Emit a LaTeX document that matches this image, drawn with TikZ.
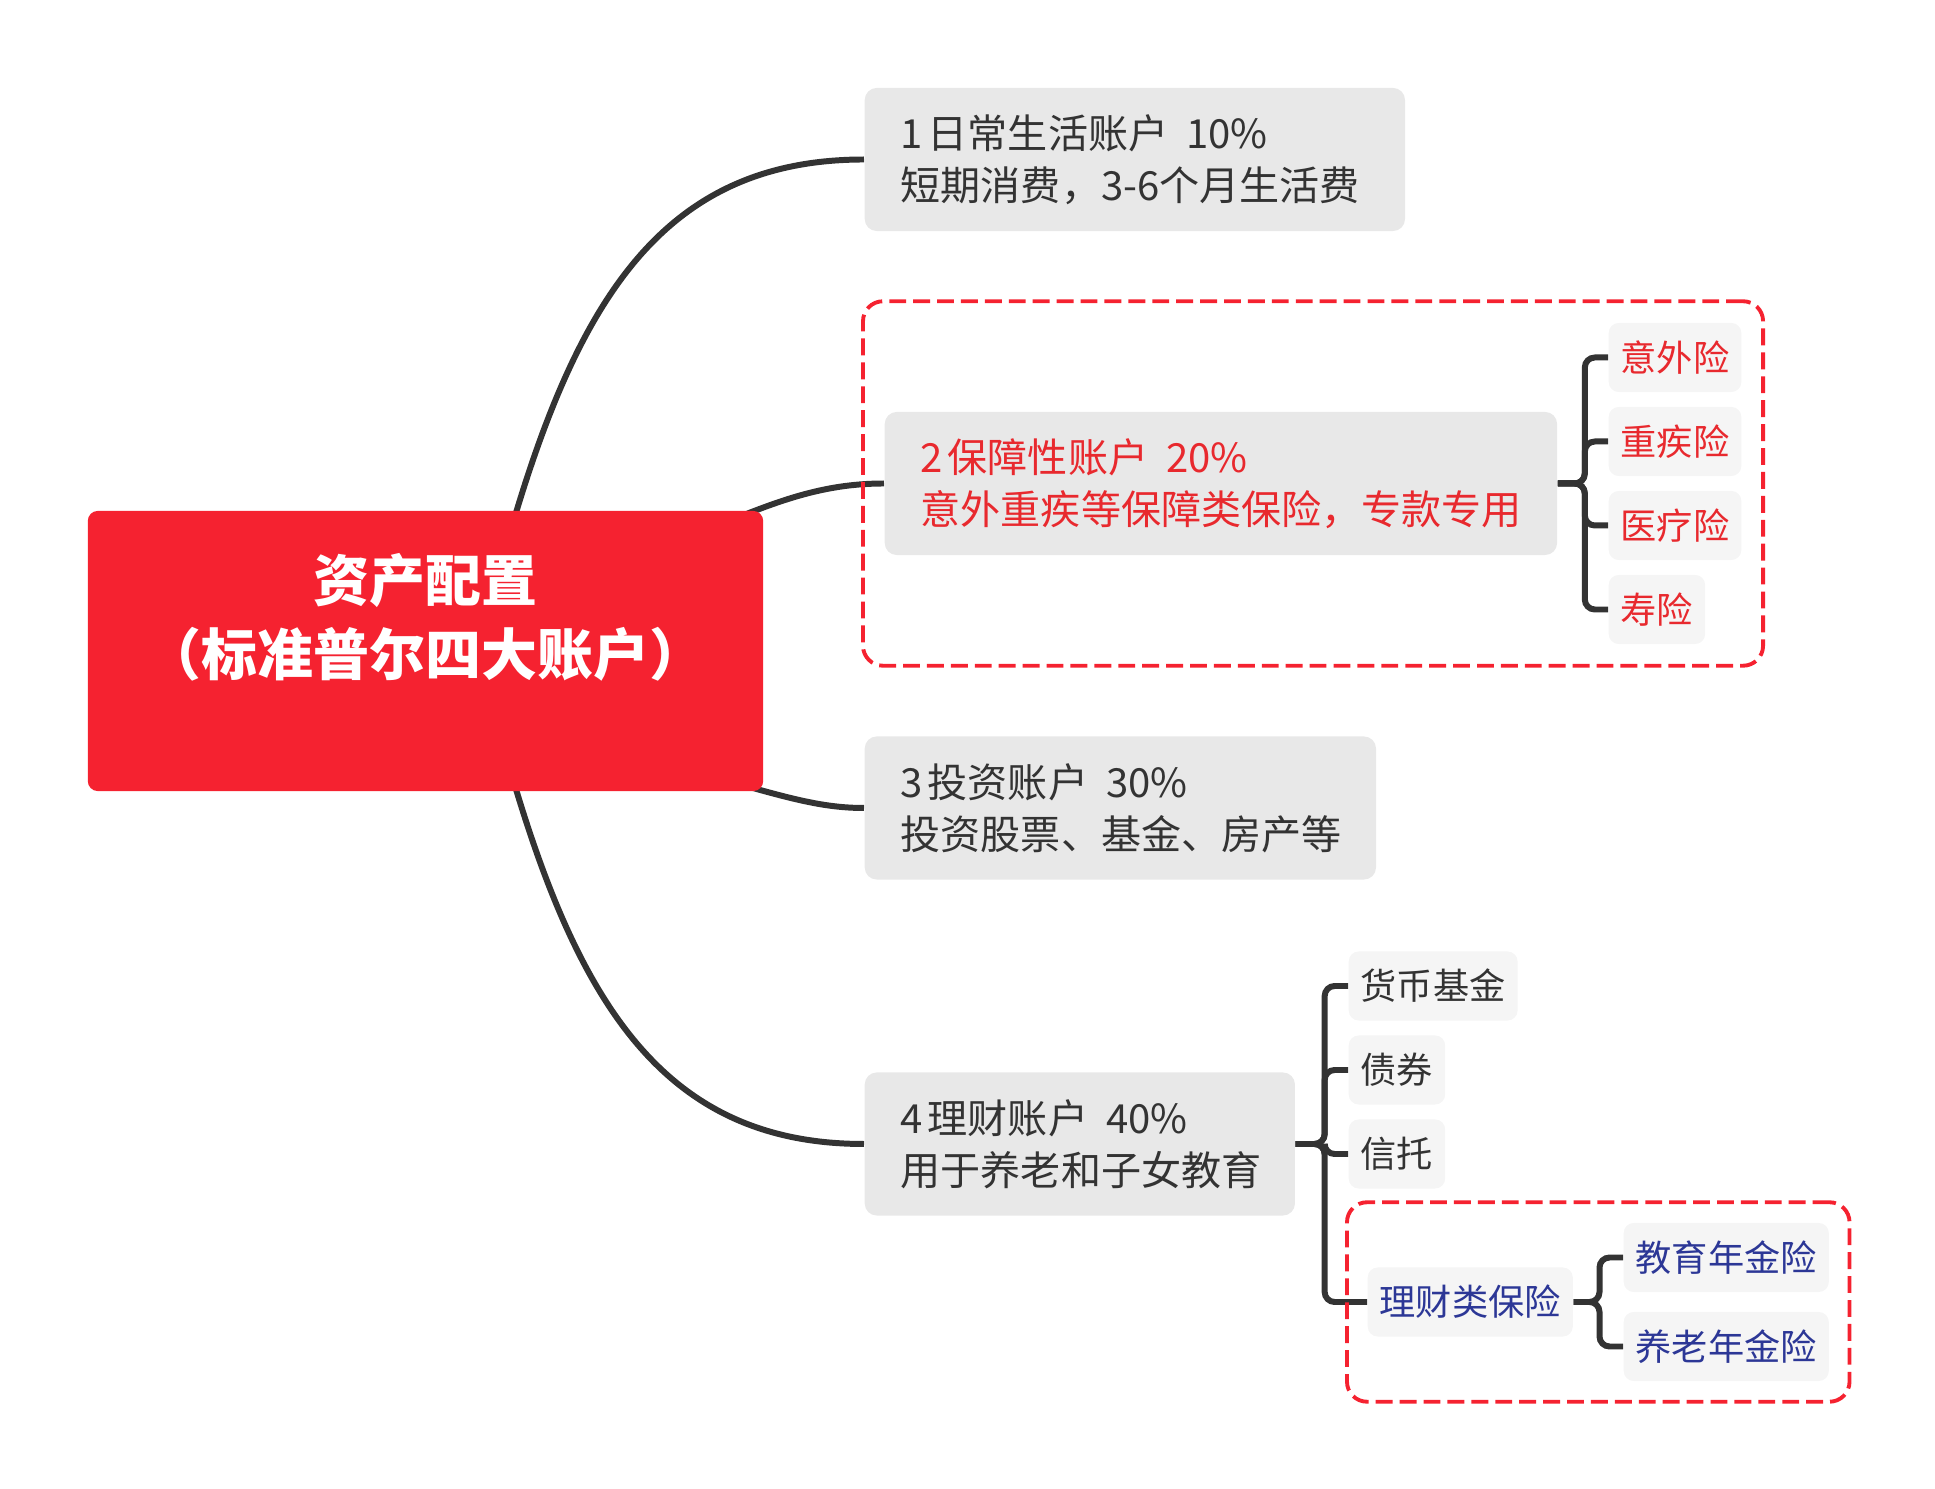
\documentclass[tikz,border=0pt]{standalone}
\usepackage{fontspec}
\setmainfont{Noto Sans CJK SC}
\usetikzlibrary{fit}
\definecolor{rootred}{HTML}{F52230}
\definecolor{dashred}{HTML}{F52230}
\definecolor{txtred}{HTML}{E8292E}
\definecolor{txtblue}{HTML}{2C3796}
\definecolor{boxgrey}{HTML}{E8E8E8}
\definecolor{leafgrey}{HTML}{F5F5F5}
\definecolor{ink}{HTML}{333333}
\pgfdeclarelayer{bg}
\pgfsetlayers{bg,main}
\newcommand{\numgap}{\hspace{0.12em}}
\newcommand{\pctgap}{\hspace{0.45em}}

\begin{document}
\begin{tikzpicture}[x=0.01cm,y=-0.01cm,
  account/.style={fill=boxgrey,rounded corners=0.12cm,anchor=west,align=left,inner xsep=0.36cm,inner ysep=0pt,minimum height=1.43cm,text=ink,font=\fontsize{11.4}{14.8}\selectfont},
  leaf/.style={fill=leafgrey,rounded corners=0.1cm,anchor=west,inner xsep=0.12cm,inner ysep=0pt,minimum height=0.69cm,text=ink,font=\fontsize{10.3}{12}\selectfont},
  curve/.style={draw=ink,line width=1.7pt},
  branch/.style={draw=ink,line width=1.7pt,rounded corners=0.1cm},
  group/.style={draw=dashred,line width=1.1pt,dash pattern=on 4.8pt off 2pt,rounded corners=0.2cm}]
  \useasboundingbox (0,0) rectangle (1935,1489);

  % Centre topic
  \node[fill=rootred,rounded corners=0.1cm,minimum width=6.75cm,minimum height=2.8cm,align=center,text=white,font=\fontsize{15.9}{21}\selectfont\bfseries] (root) at (425.5,651) {资产配置\\（标准普尔四大账户）\\~};

  % Four accounts
  \node[account,text width=4.68cm] (b1) at (864,159.5) {1\numgap 日常生活账户\pctgap 10\%\\短期消费，3-6个月生活费};
  \node[account,text width=6.0cm,text=txtred] (b2) at (884,483.5) {2\numgap 保障性账户\pctgap 20\%\\意外重疾等保障类保险，专款专用};
  \node[account,text width=4.39cm] (b3) at (864,808) {3\numgap 投资账户\pctgap 30\%\\投资股票、基金、房产等};
  \node[account,text width=3.58cm] (b4) at (864,1144) {4\numgap 理财账户\pctgap 40\%\\用于养老和子女教育};

  % Insurance leaves
  \node[leaf,text=txtred] (yiwai) at (1608,357.5) {意外险};
  \node[leaf,text=txtred] (zhongji) at (1608,441.5) {重疾险};
  \node[leaf,text=txtred] (yiliao) at (1608,525.5) {医疗险};
  \node[leaf,text=txtred] (shouxian) at (1608,609.5) {寿险};

  % Wealth leaves
  \node[leaf] (huobi) at (1348,986) {货币基金};
  \node[leaf] (zhaiquan) at (1348,1070) {债券};
  \node[leaf] (xintuo) at (1348,1154) {信托};
  \node[leaf,text=txtblue] (licaibx) at (1367,1302) {理财类保险};
  \node[leaf,text=txtblue] (jiaoyu) at (1623,1257.5) {教育年金险};
  \node[leaf,text=txtblue] (yanglao) at (1623,1346.5) {养老年金险};

  % Curves from the centre
  \begin{pgfonlayer}{bg}
    \draw[curve] ([shift={(83,28)}]root.north) .. controls +(69,-240) and +(-200,0) .. (b1.west);
    \draw[curve] ([shift={(-28,8)}]root.north east) .. controls +(52,-21) and +(-54,0) .. (b2.west);
    \draw[curve] ([shift={(-33,-10)}]root.south east) .. controls +(60,17) and +(-40,0) .. (b3.west);
    \draw[curve] ([shift={(83,-28)}]root.south) .. controls +(69,240) and +(-200,0) .. (b4.west);
  \end{pgfonlayer}

  % Brackets
  \foreach \leafname in {yiwai,zhongji,yiliao,shouxian}
    \draw[branch] (b2.east) -- ++(27,0) |- (\leafname.west);
  \foreach \leafname in {huobi,zhaiquan,xintuo,licaibx}
    \draw[branch] (b4.east) -- ++(29,0) |- (\leafname.west);
  \foreach \leafname in {jiaoyu,yanglao}
    \draw[branch] (licaibx.east) -- ++(26,0) |- (\leafname.west);

  % Dashed groups
  \node[group,fit=(b2)(yiwai)(shouxian),inner sep=0.21cm] (baozhang) {};
  \node[group,fit=(licaibx)(jiaoyu)(yanglao),inner sep=0.2cm] (licaigrp) {};
\end{tikzpicture}
\end{document}
